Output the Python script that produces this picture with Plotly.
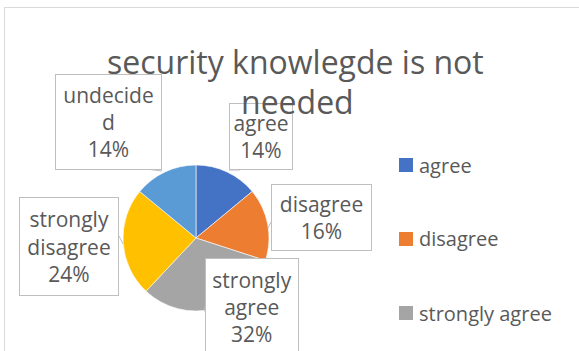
import plotly.graph_objects as go

# Survey responses to "security knowlegde is not needed"
categories = ["agree", "disagree", "strongly agree", "strongly disagree", "undecided"]
values = [14, 16, 32, 24, 14]
colors = ["#4472C4", "#ED7D31", "#A5A5A5", "#FFC000", "#5B9BD5"]
# how each category name wraps inside its callout box
box_names = [["agree"], ["disagree"], ["strongly", "agree"], ["strongly", "disagree"], ["undecide", "d"]]

W, H = 579, 351
TXT = "#595959"
FONT = "Open Sans"


def px(x):
    return x / W


def py(y):
    return 1 - y / H


# pie placement (pixels): centre and radius
cx, cy, r = 196, 238, 73

fig = go.Figure(
    go.Pie(
        labels=categories,
        values=values,
        marker=dict(colors=colors, line=dict(color="white", width=0.6)),
        sort=False,
        direction="clockwise",
        rotation=0,
        textinfo="none",
        hoverinfo="label+percent",
        showlegend=False,
        domain=dict(x=[px(cx - r), px(cx + r)], y=[py(cy + r), py(cy - r)]),
    )
)

shapes = []
annotations = []

# outer chart frame
shapes.append(dict(type="rect", xref="paper", yref="paper",
                   x0=px(4.5), x1=px(W + 20), y0=py(H + 20), y1=py(7.5),
                   line=dict(color="#D9D9D9", width=1), fillcolor="rgba(0,0,0,0)", layer="below"))

# callout boxes: (left, top, right, bottom) in pixels
boxes = [
    (229, 103, 293, 170),
    (271, 184, 372, 251),
    (205, 258, 299, 356),
    (19, 197, 119, 296),
    (55, 74, 162, 170),
]
# short leader lines from each box to its slice
leaders = [
    [(229, 170), (240, 170)],
    [(271, 222), (268, 228)],
    [(205, 306), (205, 312)],
    [(119, 236), (123, 244)],
    [(146, 169), (162, 171)],
]

total = sum(values)
for name_lines, v, (x0, y0, x1, y1), pts in zip(box_names, values, boxes, leaders):
    pct = f"{round(v / total * 100)}%"
    text = "<br>".join(name_lines + [pct])
    bw, bh = x1 - x0, y1 - y0
    annotations.append(dict(
        xref="paper", yref="paper", x=px((x0 + x1) / 2), y=py((y0 + y1) / 2),
        xanchor="center", yanchor="middle", showarrow=False,
        text=text, align="center", valign="middle",
        width=bw - 2, height=bh - 2, borderpad=0,
        bordercolor="#BFBFBF", borderwidth=1, bgcolor="white",
        font=dict(family=FONT, size=21, color=TXT),
    ))
    (ax, ay), (bx, by) = pts
    shapes.append(dict(type="line", xref="paper", yref="paper",
                       x0=px(ax), y0=py(ay), x1=px(bx), y1=py(by),
                       line=dict(color="#BFBFBF", width=1)))

# title, drawn over the callouts
annotations.append(dict(xref="paper", yref="paper", x=px(295), y=py(61),
                        xanchor="center", yanchor="middle", showarrow=False,
                        text="security knowlegde is not",
                        font=dict(family=FONT, size=32, color=TXT)))
annotations.append(dict(xref="paper", yref="paper", x=px(297), y=py(101),
                        xanchor="center", yanchor="middle", showarrow=False,
                        text="needed",
                        font=dict(family=FONT, size=32, color=TXT)))

# legend column on the right; entries that would fall below the page are not drawn
leg_x, leg_y0, leg_step, sq = 399, 165, 74, 14
for i, (cat, col) in enumerate(zip(categories, colors)):
    yc = leg_y0 + i * leg_step
    if yc + 12 > H:
        break
    shapes.append(dict(type="rect", xref="paper", yref="paper",
                       x0=px(leg_x), x1=px(leg_x + sq), y0=py(yc + sq / 2), y1=py(yc - sq / 2),
                       line=dict(width=0), fillcolor=col))
    annotations.append(dict(xref="paper", yref="paper", x=px(leg_x + sq + 4), y=py(yc),
                            xanchor="left", yanchor="middle", showarrow=False,
                            text=cat, font=dict(family=FONT, size=20, color=TXT)))

fig.update_layout(
    width=W, height=H,
    margin=dict(l=0, r=0, t=0, b=0),
    paper_bgcolor="white", plot_bgcolor="white",
    shapes=shapes, annotations=annotations,
    showlegend=False,
)

fig.write_html("out.html")
